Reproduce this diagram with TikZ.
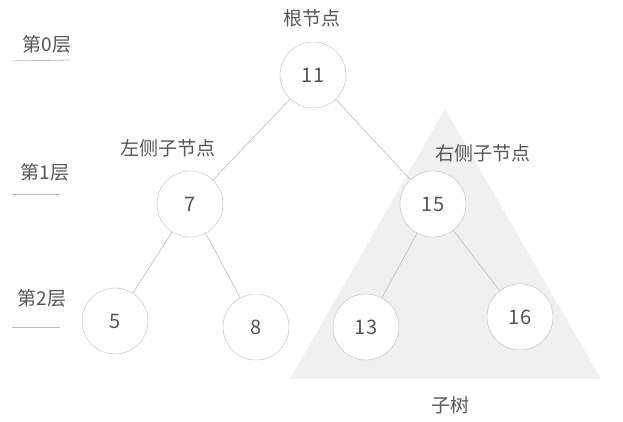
\documentclass[tikz,border=0pt]{standalone}
\usepackage{fontspec}
\setmainfont{Noto Sans CJK SC}
\usepackage{tikz}
\usetikzlibrary{positioning}
\definecolor{txtgray}{HTML}{555555}
\definecolor{linegray}{HTML}{BBBBBB}
\definecolor{subtree}{HTML}{F0F0F0}
\tikzset{
  treenode/.style={circle, draw=linegray, fill=white, minimum size=66pt, inner sep=0pt, font=\fontsize{20}{20}\selectfont, text=txtgray},
  edge/.style={draw=linegray, line width=0.6pt},
  label/.style={font=\fontsize{19}{19}\selectfont, text=txtgray},
  levelline/.style={draw=linegray, line width=0.8pt},
  subtreebg/.style={fill=subtree, draw=none}
}
\begin{document}
\begin{tikzpicture}[x=1pt, y=-1pt]
  \useasboundingbox (0,0) rectangle (623,422);
  \fill[subtreebg] (445,109) -- (290,379) -- (601,379) -- cycle;
  \node[treenode] (n11) at (313,75) {11};
  \node[treenode] (n7) at (190,204) {7};
  \node[treenode] (n15) at (433,204) {15};
  \node[treenode] (n5) at (115,321) {5};
  \node[treenode] (n8) at (256,327) {8};
  \node[treenode] (n13) at (366,327) {13};
  \node[treenode] (n16) at (520,317) {16};
  \foreach \a/\b in {n11/n7, n11/n15, n7/n5, n7/n8, n15/n13, n15/n16}
    \draw[edge] (\a) -- (\b);
  \node[label] (root) at (312,18) {根节点};
  \node[label] (lchild) at (168,148) {左侧子节点};
  \node[label] (rchild) at (483,153) {右侧子节点};
  \node[label] (sub) at (450,405) {子树};
  \node[label] (lv0) at (47,44) {第0层};
  \node[label] (lv1) at (45,172) {第1层};
  \node[label] (lv2) at (42,298) {第2层};
  \draw[levelline] (12,61) -- (70,60);
  \draw[levelline] (12,194) -- (60,194);
  \draw[levelline] (12,327) -- (60,327);
\end{tikzpicture}
\end{document}
